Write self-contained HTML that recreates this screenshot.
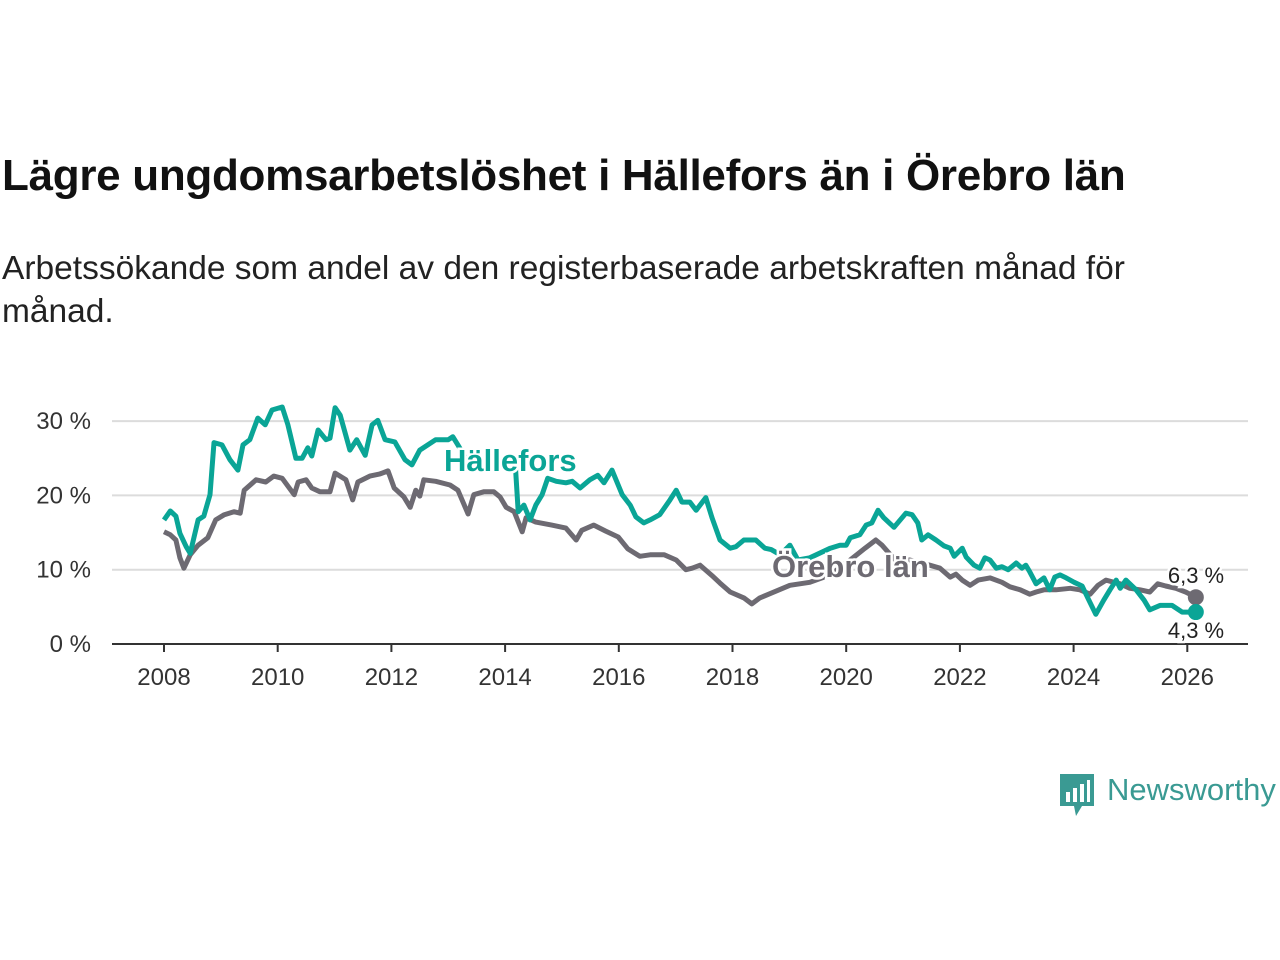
<!DOCTYPE html>
<html><head><meta charset="utf-8"><style>
body{margin:0;background:#fff;width:1280px;height:960px;overflow:hidden;font-family:"Liberation Sans",sans-serif}
#title{position:absolute;left:2px;top:151px;font-size:44px;font-weight:bold;color:#111;white-space:nowrap;letter-spacing:-0.3px}
#sub{position:absolute;left:2px;top:247px;font-size:33.5px;line-height:43px;color:#222;width:1200px}
svg{position:absolute;left:0;top:0}
</style></head><body>
<div id="title">Lägre ungdomsarbetslöshet i Hällefors än i Örebro län</div>
<div id="sub">Arbetssökande som andel av den registerbaserade arbetskraften månad för månad.</div>
<svg id="chart" width="1280" height="960"></svg>
<div style="position:absolute;left:1060px;top:774px;">
<svg width="36" height="44" style="position:static"><path d="M0 0H34V32H22L16 42L14 32H0Z" fill="#3a9a93"/><rect x="6" y="18" width="4" height="10" fill="#fff"/><rect x="13" y="14" width="4" height="14" fill="#fff"/><rect x="20" y="10" width="4" height="18" fill="#fff"/><rect x="27" y="6" width="3" height="22" fill="#fff"/></svg>
<span style="position:absolute;left:47px;top:-2px;font-size:31px;color:#3a9a93;white-space:nowrap">Newsworthy</span></div>
<script>
const yTicks=[0,10,20,30];
const xTicks=[2008,2010,2012,2014,2016,2018,2020,2022,2024,2026];
const hallYears=[2008.00,2008.11,2008.21,2008.28,2008.39,2008.46,2008.60,2008.70,2008.81,2008.88,2009.02,2009.16,2009.30,2009.39,2009.51,2009.65,2009.78,2009.90,2010.08,2010.18,2010.32,2010.43,2010.53,2010.60,2010.71,2010.85,2010.92,2011.01,2011.10,2011.27,2011.39,2011.54,2011.66,2011.76,2011.89,2012.06,2012.24,2012.36,2012.50,2012.64,2012.78,2013.00,2013.08,2013.17,2013.31,2013.45,2013.65,2013.91,2014.17,2014.23,2014.33,2014.44,2014.54,2014.65,2014.75,2014.90,2015.07,2015.18,2015.32,2015.49,2015.63,2015.74,2015.88,2016.06,2016.20,2016.30,2016.44,2016.55,2016.72,2016.90,2017.01,2017.11,2017.25,2017.36,2017.53,2017.64,2017.78,2017.96,2018.06,2018.20,2018.41,2018.57,2018.68,2018.84,2019.01,2019.15,2019.36,2019.72,2019.89,2020.00,2020.07,2020.24,2020.35,2020.45,2020.56,2020.66,2020.84,2021.05,2021.16,2021.26,2021.33,2021.44,2021.58,2021.72,2021.83,2021.90,2022.04,2022.11,2022.25,2022.35,2022.44,2022.53,2022.64,2022.74,2022.85,2022.99,2023.09,2023.16,2023.23,2023.34,2023.48,2023.58,2023.67,2023.76,2023.87,2024.01,2024.15,2024.27,2024.39,2024.53,2024.64,2024.75,2024.82,2024.92,2025.10,2025.24,2025.34,2025.52,2025.73,2025.91,2026.15];
const hallValues=[16.7,17.9,17.2,14.9,13.1,12.2,16.7,17.2,20.1,27.1,26.8,24.8,23.4,26.8,27.5,30.4,29.5,31.5,31.9,29.5,25.0,25.0,26.4,25.3,28.8,27.5,27.7,31.8,30.8,26.1,27.5,25.4,29.5,30.1,27.5,27.2,24.8,24.1,26.1,26.8,27.5,27.5,27.9,26.8,25.0,24.5,24.5,24.8,25.2,17.8,18.7,16.7,18.7,20.1,22.3,21.9,21.7,21.9,21.0,22.1,22.7,21.7,23.4,20.1,18.7,17.1,16.3,16.7,17.4,19.4,20.7,19.1,19.1,18.0,19.7,17.0,14.0,12.9,13.1,14.0,14.0,12.9,12.7,12.0,13.3,11.3,11.6,12.9,13.3,13.3,14.3,14.7,16.0,16.3,18.0,17.0,15.7,17.6,17.4,16.3,14.0,14.7,14.0,13.2,12.9,11.8,12.9,11.7,10.6,10.2,11.6,11.3,10.2,10.4,10.0,10.9,10.2,10.6,9.7,8.1,8.9,7.3,9.0,9.3,8.9,8.3,7.8,5.9,4.0,5.9,7.3,8.6,7.5,8.6,7.3,5.9,4.6,5.2,5.2,4.3,4.3];
const oreYears=[2008.00,2008.11,2008.21,2008.28,2008.35,2008.46,2008.60,2008.77,2008.91,2009.06,2009.23,2009.34,2009.41,2009.62,2009.79,2009.93,2010.08,2010.29,2010.36,2010.50,2010.60,2010.74,2010.92,2011.01,2011.20,2011.32,2011.41,2011.62,2011.80,2011.94,2012.05,2012.22,2012.33,2012.43,2012.50,2012.57,2012.78,2013.03,2013.17,2013.35,2013.45,2013.63,2013.80,2013.91,2014.02,2014.16,2014.30,2014.37,2014.54,2014.82,2015.07,2015.25,2015.35,2015.56,2015.77,2015.99,2016.16,2016.37,2016.55,2016.80,2017.01,2017.18,2017.29,2017.43,2017.64,2017.78,2017.96,2018.20,2018.34,2018.48,2018.70,2019.01,2019.36,2019.72,2020.07,2020.33,2020.52,2020.63,2020.86,2021.12,2021.47,2021.65,2021.83,2021.93,2022.04,2022.18,2022.32,2022.53,2022.74,2022.88,2023.06,2023.23,2023.34,2023.48,2023.69,2023.94,2024.11,2024.29,2024.43,2024.57,2024.71,2024.82,2024.99,2025.17,2025.34,2025.48,2025.62,2025.80,2025.97,2026.15];
const oreValues=[15.1,14.7,14.0,11.6,10.2,12.0,13.3,14.3,16.7,17.4,17.8,17.6,20.7,22.1,21.8,22.6,22.3,20.1,21.8,22.1,21.0,20.5,20.5,23.0,22.1,19.4,21.8,22.6,22.9,23.3,21.0,19.8,18.4,20.7,19.9,22.1,21.9,21.4,20.7,17.5,20.1,20.5,20.5,19.8,18.4,17.8,15.1,17.0,16.4,16.0,15.6,14.0,15.3,16.0,15.2,14.4,12.8,11.8,12.0,12.0,11.3,10.0,10.2,10.6,9.2,8.2,7.0,6.2,5.4,6.2,6.9,7.9,8.3,9.3,11.3,12.9,14.0,13.3,11.3,11.3,10.6,10.2,9.0,9.4,8.6,7.9,8.6,8.9,8.3,7.7,7.3,6.7,7.0,7.3,7.3,7.5,7.3,6.7,7.9,8.6,8.3,8.1,7.5,7.3,7.0,8.1,7.8,7.5,7.0,6.3];
const NS='http://www.w3.org/2000/svg';
const svg=document.getElementById('chart');
const X=y=>164+(y-2008)*56.85;
const Y=v=>644-v*7.43;
function mk(t,a){const e=document.createElementNS(NS,t);for(const k in a)e.setAttribute(k,a[k]);svg.appendChild(e);return e;}
yTicks.forEach(v=>{
 if(v>0){const g=mk('line',{x1:112,x2:1248,y1:Y(v),y2:Y(v),stroke:'#dcdcdc','stroke-width':2});
 
 }
 const t=mk('text',{x:91,y:Y(v)+8,'text-anchor':'end','font-size':24,fill:'#333','font-family':'Liberation Sans, sans-serif'});
 t.textContent=v+' %';
 
 
});
const ax=mk('line',{x1:112,x2:1248,y1:644,y2:644,stroke:'#333','stroke-width':2});


xTicks.forEach(yr=>{
 const tk=mk('line',{x1:X(yr),x2:X(yr),y1:644,y2:652,stroke:'#333','stroke-width':2});
 
 
 const t=mk('text',{x:X(yr),y:685,'text-anchor':'middle','font-size':24,fill:'#333','font-family':'Liberation Sans, sans-serif'});
 t.textContent=yr;
 
 
});
function line(ys,vs,col,name){
 const d=ys.map((y,i)=>(i?'L':'M')+X(y).toFixed(1)+' '+Y(vs[i]).toFixed(1)).join('');
 const p=mk('path',{d:d,fill:'none',stroke:col,'stroke-width':5,'stroke-linejoin':'round'});
 
 
 const n=ys.length-1;
 const c=mk('circle',{cx:X(ys[n]),cy:Y(vs[n]),r:8,fill:col});
 
 
}
line(oreYears,oreValues,'#6d6a72','orebro-lan-line');
line(hallYears,hallValues,'#0aa596','hallefors-line');
function lbl(x,y,txt,col,size,w,name,anchor){
 const t=mk('text',{x:x,y:y,'font-size':size,'font-weight':w,fill:col,stroke:'#fff','stroke-width':5,'paint-order':'stroke','text-anchor':anchor,'font-family':'Liberation Sans, sans-serif'});
 t.textContent=txt;
 
 
}
lbl(444,471,'Hällefors','#0aa596',31,'bold','hallefors-label','start');
lbl(772,577,'Örebro län','#6d6a72',31,'bold','orebro-label','start');
lbl(1196,583,'6,3 %','#222',22,'normal','orebro-end-value','middle');
lbl(1196,638,'4,3 %','#222',22,'normal','hallefors-end-value','middle');
</script>
</body></html>
